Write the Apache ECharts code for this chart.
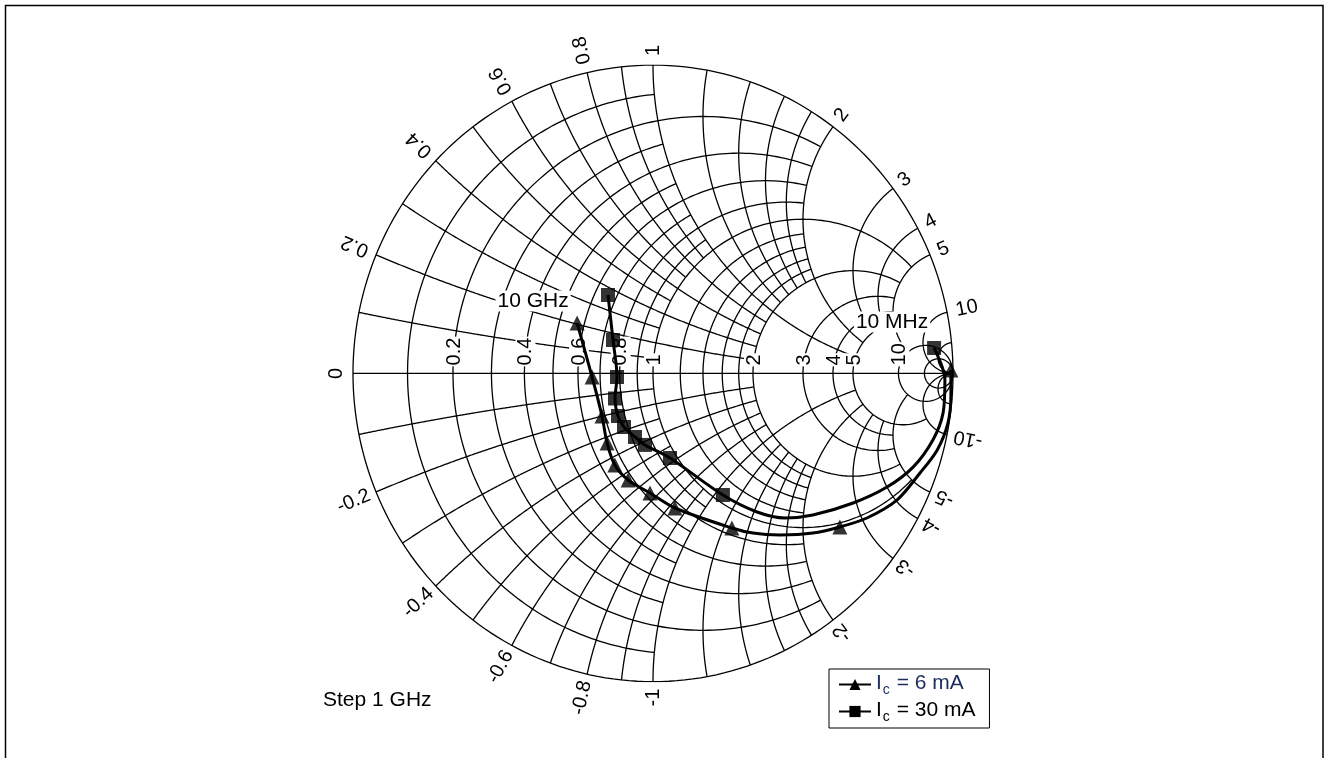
<!DOCTYPE html>
<html><head><meta charset="utf-8">
<script src="https://cdn.jsdelivr.net/npm/echarts@6/dist/echarts.min.js"></script>
<style>html,body{margin:0;padding:0;background:#fff;}#c{width:1330px;height:758px;}</style>
</head><body><div id="c"></div>
<script>
// ---- Smith chart grid: [value, limit of the other coordinate up to which it is drawn]
const resistanceGrid = [[0.1,1],[0.2,2],[0.3,1],[0.4,2],[0.5,1],[0.6,2],[0.7,1],[0.8,2],[0.9,1],[1,5],
  [1.2,2],[1.4,2],[1.6,2],[1.8,2],[2,5],[3,5],[4,5],[5,10],[10,Infinity],[20,Infinity]];
const reactanceGrid = [[0.1,1],[0.2,2],[0.3,1],[0.4,2],[0.5,1],[0.6,2],[0.7,1],[0.8,2],[0.9,1],[1,5],
  [1.2,2],[1.4,2],[1.6,2],[1.8,2],[2,5],[3,5],[4,5],[5,10],[10,Infinity],[20,Infinity]];
const resistanceLabels = ['0.2','0.4','0.6','0.8','1','2','3','4','5','10'];
const reactanceLabels = ['0.2','0.4','0.6','0.8','1','2','3','4','5','10'];
const freqLabels = ['10 MHz','1 GHz','2 GHz','3 GHz','4 GHz','5 GHz','6 GHz','7 GHz','8 GHz','9 GHz','10 GHz'];

// ---- Ic = 6 mA : reflection coefficient at the frequency markers (Re, Im)
const ic6Re = [0.993, 0.623, 0.263, 0.073, -0.010, -0.083, -0.127, -0.153, -0.170, -0.203, -0.253];
const ic6Im = [0.011, -0.498, -0.5015, -0.4366, -0.388, -0.3458, -0.2971, -0.2258, -0.1382, -0.0117, 0.1635];
// trace (includes markers)
const ic6PathRe = [0.993, 0.993, 0.983, 0.947, 0.890, 0.813, 0.713, 0.623, 0.533, 0.423, 0.333, 0.263, 0.073, -0.010, -0.083, -0.127, -0.153, -0.170, -0.203, -0.253];
const ic6PathIm = [0.011, -0.070, -0.161, -0.249, -0.323, -0.411, -0.469, -0.498, -0.518, -0.524, -0.518, -0.5015, -0.4366, -0.388, -0.3458, -0.2971, -0.2258, -0.1382, -0.0117, 0.1635];

// ---- Ic = 30 mA
const ic30Re = [0.937, 0.233, 0.0567, -0.0267, -0.060, -0.0967, -0.1167, -0.1267, -0.120, -0.1333, -0.150];
const ic30Im = [0.0824, -0.3944, -0.2744, -0.232, -0.2063, -0.1739, -0.1382, -0.0814, -0.0117, 0.1083, 0.2543];
const ic30PathRe = [0.937, 0.973, 0.967, 0.933, 0.867, 0.780, 0.667, 0.533, 0.440, 0.347, 0.233, 0.0567, -0.0267, -0.060, -0.0967, -0.1167, -0.1267, -0.120, -0.1333, -0.150];
const ic30PathIm = [0.0824, -0.0214, -0.128, -0.216, -0.304, -0.3686, -0.4204, -0.4593, -0.469, -0.4495, -0.3944, -0.2744, -0.232, -0.2063, -0.1739, -0.1382, -0.0814, -0.0117, 0.1083, 0.2543];

const FONT_FAMILY = 'Arial, "Liberation Sans", sans-serif';

function gam(r, x) {
  if (!isFinite(r) || !isFinite(x)) return [1, 0];
  const d = (r + 1) * (r + 1) + x * x;
  return [(r * r + x * x - 1) / d, 2 * x / d];
}
function resCircle(r, L) {
  const U = isFinite(L) ? L / (1 + L) : 1, N = 300, pts = [];
  for (let i = 0; i <= N; i++) {
    const u = -U + 2 * U * i / N;
    const x = Math.abs(u) >= 1 ? Math.sign(u) * Infinity : u / (1 - Math.abs(u));
    pts.push(gam(r, x));
  }
  return pts;
}
function reactArc(x, L) {
  const U = isFinite(L) ? L / (1 + L) : 1, N = 300, pts = [];
  for (let i = 0; i <= N; i++) {
    const u = U * i / N;
    const r = u >= 1 ? Infinity : u / (1 - u);
    pts.push(gam(r, x));
  }
  return pts;
}
const gridLines = [];
gridLines.push(resCircle(0, Infinity));
gridLines.push([gam(0, 0), gam(Infinity, 0)]);
resistanceGrid.forEach(([r, L]) => gridLines.push(resCircle(r, L)));
reactanceGrid.forEach(([x, L]) => { gridLines.push(reactArc(x, L)); gridLines.push(reactArc(-x, L)); });

const zip = (a, b) => a.map((v, i) => [v, b[i]]);

const chart = echarts.init(document.getElementById('c'), null, {renderer: 'canvas'});
const rich = {
  a: {fontSize: 21, fontFamily: FONT_FAMILY, color: '#1c2d5e', lineHeight: 23, verticalAlign: 'top'},
  as: {fontSize: 14, fontFamily: FONT_FAMILY, color: '#1c2d5e', lineHeight: 14, padding: [10, 1, 0, 1], verticalAlign: 'top'},
  b: {fontSize: 21, fontFamily: FONT_FAMILY, color: '#000', lineHeight: 23, verticalAlign: 'top'},
  bs: {fontSize: 14, fontFamily: FONT_FAMILY, color: '#000', lineHeight: 14, padding: [10, 1, 0, 1], verticalAlign: 'top'}
};
chart.setOption({
  animation: false,
  grid: {left: 353, top: 65.1, width: 600, height: 616.6},
  xAxis: {type: 'value', min: -1, max: 1, show: false},
  yAxis: {type: 'value', min: -1, max: 1, show: false},
  legend: {
    orient: 'vertical', left: 829, top: 669, itemWidth: 32, itemHeight: 14, itemGap: 3,
    padding: [4, 14, 4, 9], borderColor: '#000', borderWidth: 1, backgroundColor: '#fff',
    textStyle: {fontSize: 21, fontFamily: FONT_FAMILY, rich: rich},
    data: ['Ic = 6 mA', 'Ic = 30 mA'],
    formatter: n => n === 'Ic = 6 mA' ? '{a|I}{as|c}{a| = 6 mA}' : '{b|I}{bs|c}{b| = 30 mA}'
  },
  series: [
    {type: 'lines', coordinateSystem: 'cartesian2d', polyline: true, silent: true, z: 1,
     lineStyle: {color: '#000', width: 1.3, opacity: 1},
     data: gridLines.map(c => ({coords: c}))},
    {type: 'line', name: 'Ic = 6 mA', data: zip(ic6PathRe, ic6PathIm), smooth: 0.3, symbol: 'triangle',
     showSymbol: false, z: 5, lineStyle: {color: '#000', width: 3}, itemStyle: {color: '#000'}},
    {type: 'line', name: 'Ic = 30 mA', data: zip(ic30PathRe, ic30PathIm), smooth: 0.3, symbol: 'rect',
     showSymbol: false, z: 5, lineStyle: {color: '#000', width: 3}, itemStyle: {color: '#000'}},
    {type: 'scatter', name: 'Ic = 6 mA', data: zip(ic6Re, ic6Im), symbol: 'triangle', symbolSize: 15, z: 6,
     itemStyle: {color: '#000'}},
    {type: 'scatter', name: 'Ic = 30 mA', data: zip(ic30Re, ic30Im), symbol: 'rect', symbolSize: 14, z: 6,
     itemStyle: {color: '#000'}}
  ]
});

// ---- text labels placed through the chart's own coordinate conversion
const px = g => chart.convertToPixel({gridIndex: 0}, g);
const ctx = document.createElement('canvas').getContext('2d');
const LABEL_FONT = '20px ' + FONT_FAMILY;
ctx.font = LABEL_FONT;
const graphics = [];
function txt(text, x, y, rot) {
  graphics.push({
    type: 'text', x: x, y: y, rotation: rot, z: 3,
    style: {text: text, font: LABEL_FONT, fill: '#000', align: 'center', verticalAlign: 'middle',
      textAlign: 'center', textVerticalAlign: 'middle'}
  });
}
function outer(text, g, rot, extent, gap) {
  const p = px(g), th = Math.atan2(g[1], g[0]);
  const d = [Math.cos(th), -Math.sin(th)], off = gap + extent / 2;
  txt(text, p[0] + d[0] * off, p[1] + d[1] * off, rot);
}
outer('0', [-1, 0], Math.PI / 2, 15, 9);
reactanceLabels.forEach(s => {
  const v = parseFloat(s);
  let g = gam(0, v), th = Math.atan2(g[1], g[0]);
  outer(s, g, th, ctx.measureText(s).width, 9);
  const sn = '-' + s;
  g = gam(0, -v); th = Math.atan2(g[1], g[0]);
  outer(sn, g, th + Math.PI, ctx.measureText(sn).width, 7);
});
resistanceLabels.forEach(s => {
  const p = px(gam(parseFloat(s), 0));
  graphics.push({type: 'text', x: p[0] + 1, y: p[1] - 7, rotation: Math.PI / 2, z: 3,
    style: {text: s, font: LABEL_FONT, fill: '#000', align: 'left', verticalAlign: 'middle',
      textAlign: 'left', textVerticalAlign: 'middle', backgroundColor: '#fff', padding: [0, 1]}});
});
// frequency annotations next to the trace ends
const endG = px([ic6Re[ic6Re.length - 1], ic6Im[ic6Im.length - 1]]);
graphics.push({type: 'text', x: endG[0] - 44, y: endG[1] - 22, z: 3,
  style: {text: freqLabels[freqLabels.length - 1], font: '21px ' + FONT_FAMILY, fill: '#000', align: 'center',
    verticalAlign: 'middle', textAlign: 'center', textVerticalAlign: 'middle', backgroundColor: '#fff', padding: [0, 2]}});
const startM = px([ic30Re[0], ic30Im[0]]);
graphics.push({type: 'text', x: startM[0] - 42, y: startM[1] - 26, z: 3,
  style: {text: freqLabels[0], font: '21px ' + FONT_FAMILY, fill: '#000', align: 'center',
    verticalAlign: 'middle', textAlign: 'center', textVerticalAlign: 'middle', backgroundColor: '#fff', padding: [0, 2]}});
graphics.push({type: 'text', x: 323, y: 700, z: 3,
  style: {text: 'Step 1 GHz', font: '21px ' + FONT_FAMILY, fill: '#000', align: 'left', verticalAlign: 'middle',
    textAlign: 'left', textVerticalAlign: 'middle'}});
graphics.push({type: 'rect', shape: {x: 5.5, y: 5.5, width: 1317.5, height: 800}, z: 0,
  style: {fill: 'none', stroke: '#000', lineWidth: 1.5}, silent: true});
chart.setOption({graphic: graphics});
</script></body></html>
